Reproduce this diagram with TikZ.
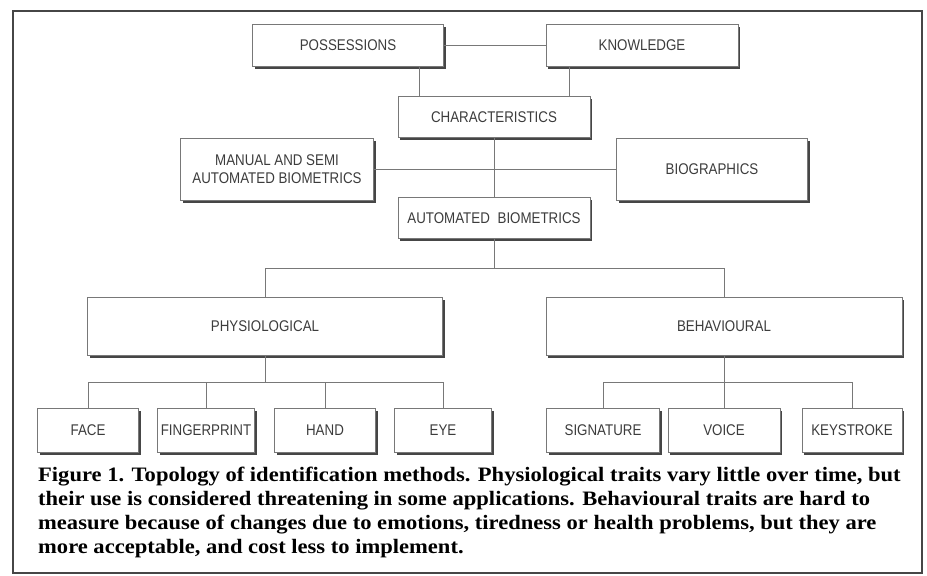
\documentclass[tikz,border=0pt]{standalone}
\usepackage{fontspec}
\usepackage{tikz}
\usetikzlibrary{positioning, calc, shadows}
\setmainfont{Liberation Serif}
\newfontfamily\boxfont[FakeStretch=0.86]{Liberation Sans}
\newfontfamily\capfont[FakeStretch=1.1]{Liberation Serif}
\definecolor{framegray}{RGB}{70, 70, 70}
\definecolor{linegray}{RGB}{120, 120, 120}
\definecolor{labelgray}{RGB}{60, 60, 60}

\begin{document}
\begin{tikzpicture}[
    x=1pt, y=-1pt,
    box/.style={draw=linegray, line width=0.8pt, fill=white, align=center,
        font=\boxfont\fontsize{15.5}{18}\selectfont, text=labelgray, inner sep=0pt,
        drop shadow={shadow xshift=2pt, shadow yshift=-2.5pt, fill=framegray, opacity=1}},
    link/.style={draw=linegray, line width=0.8pt}
]
    \useasboundingbox (0,0) rectangle (927,576);
    \draw[framegray, line width=2.5pt] (13,11) rectangle (922,573);

    % Top level
    \node[box, minimum width=191, minimum height=42] (poss) at (348,45) {POSSESSIONS};
    \node[box, minimum width=192, minimum height=42] (know) at (642,45) {KNOWLEDGE};
    \node[box, minimum width=192, minimum height=41] (char) at (494,117) {CHARACTERISTICS};

    % Second level
    \node[box, minimum width=193, minimum height=62] (manual) at (277,169) {MANUAL AND SEMI\\AUTOMATED BIOMETRICS};
    \node[box, minimum width=191, minimum height=62] (bio) at (712,169) {BIOGRAPHICS};
    \node[box, minimum width=192, minimum height=41] (auto) at (494,218) {AUTOMATED\enskip BIOMETRICS};

    % Trait groups
    \node[box, minimum width=355, minimum height=58] (physio) at (265,326) {PHYSIOLOGICAL};
    \node[box, minimum width=356, minimum height=58] (behav) at (724,326) {BEHAVIOURAL};

    % Single traits
    \node[box, minimum width=101, minimum height=44] (face) at (88,430) {FACE};
    \node[box, minimum width=97, minimum height=44] (finger) at (206,430) {FINGERPRINT};
    \node[box, minimum width=101, minimum height=44] (hand) at (325,430) {HAND};
    \node[box, minimum width=97, minimum height=44] (eye) at (443,430) {EYE};
    \node[box, minimum width=113, minimum height=44] (sig) at (603,430) {SIGNATURE};
    \node[box, minimum width=112, minimum height=44] (voice) at (724,430) {VOICE};
    \node[box, minimum width=100, minimum height=44] (keys) at (852,430) {KEYSTROKE};

    % Links
    \draw[link] (poss) -- (know);
    \draw[link] ([xshift=22]char.north west) -- ([xshift=22]char.north west |- poss.south);
    \draw[link] ([xshift=-21]char.north east) -- ([xshift=-21]char.north east |- know.south);
    \draw[link] (manual.east) -- (bio.west);
    \draw[link] (char.south) -- (auto.north);

    \coordinate (j1) at ($(auto.south)+(0,29)$);
    \draw[link] (auto.south) -- (j1);
    \draw[link] (physio.north) |- (j1) -| (behav.north);

    \coordinate (j2) at ($(physio.south)+(0,27)$);
    \draw[link] (physio.south) -- (j2);
    \draw[link] (face.north) |- (j2) -| (eye.north);
    \draw[link] (finger.north) -- (finger.north |- j2);
    \draw[link] (hand.north) -- (hand.north |- j2);

    \coordinate (j3) at ($(behav.south)+(0,27)$);
    \draw[link] (behav.south) -- (voice.north);
    \draw[link] (sig.north) |- (j3) -| (keys.north);

    % Caption
    \node[anchor=north west, align=left, inner sep=0pt,
          font=\capfont\bfseries\fontsize{20.5}{24}\selectfont] (caption) at (38,467)
        {Figure 1. Topology of identification methods. Physiological traits vary little over time, but\\
         their use is considered threatening in some applications. Behavioural traits are hard to\\
         measure because of changes due to emotions, tiredness or health problems, but they are\\
         more acceptable, and cost less to implement.};
\end{tikzpicture}
\end{document}
